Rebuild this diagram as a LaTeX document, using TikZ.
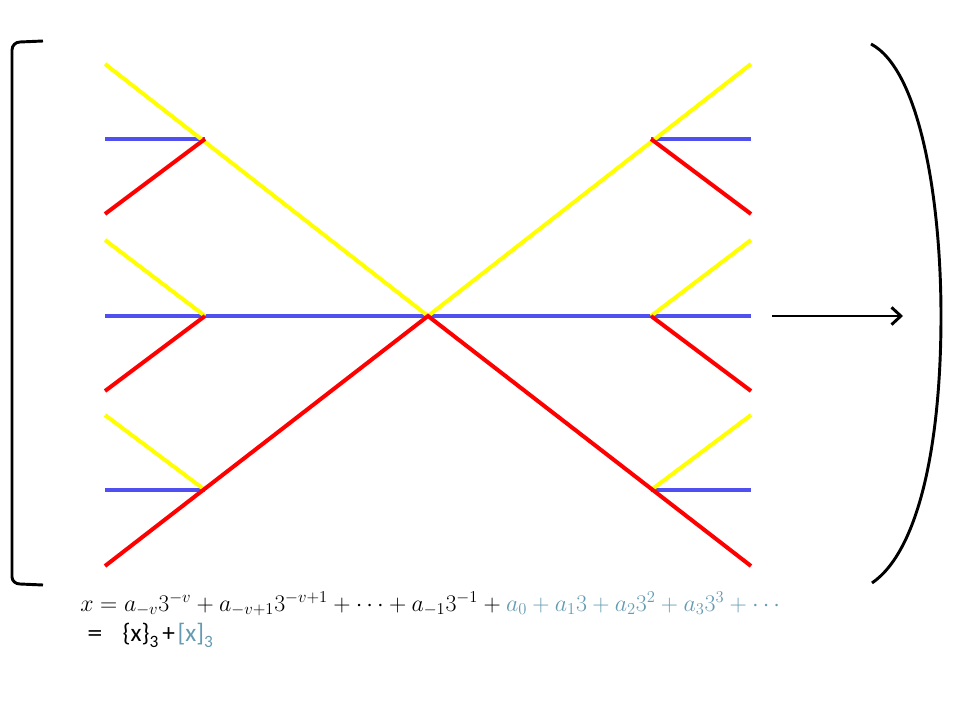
\documentclass[tikz,border=0pt]{standalone}
\usepackage{fontspec}
\newfontfamily\calib{Carlito}
\usetikzlibrary{arrows.meta}
\definecolor{yel}{RGB}{255,255,0}
\definecolor{blu}{RGB}{80,80,240}
\definecolor{rd}{RGB}{255,0,0}
\definecolor{tealt}{RGB}{100,155,178}
\newcommand{\subthree}{\raisebox{-5pt}{\fontsize{13}{14}\selectfont 3}}
\tikzset{
  seg/.style={line width=3pt},
  ys/.style={seg,draw=yel},
  bs/.style={seg,draw=blu},
  rs/.style={seg,draw=rd},
  blk/.style={line width=2.2pt,draw=black}
}
\begin{document}
\begin{tikzpicture}[x=0.75pt,y=-0.75pt]
\useasboundingbox (0,0) rectangle (960,720);
% left junctions
\coordinate (L1) at (205,139);
\coordinate (L2) at (205,316);
\coordinate (L3) at (205,490);
\coordinate (C) at (428,316);
\coordinate (R1) at (651,139);
\coordinate (R2) at (651,316);
\coordinate (R3) at (651,490);
% left ends
\coordinate (ly1) at (105,64);  \coordinate (lb1) at (105,139); \coordinate (lr1) at (105,214);
\coordinate (ly2) at (105,240); \coordinate (lb2) at (105,316); \coordinate (lr2) at (105,391);
\coordinate (ly3) at (105,415); \coordinate (lb3) at (105,490); \coordinate (lr3) at (105,566);
% right ends
\coordinate (ry1) at (751,64);  \coordinate (rb1) at (751,139); \coordinate (rr1) at (751,214);
\coordinate (ry2) at (751,240); \coordinate (rb2) at (751,316); \coordinate (rr2) at (751,391);
\coordinate (ry3) at (751,415); \coordinate (rb3) at (751,490); \coordinate (rr3) at (751,566);
% blue
\draw[bs] (lb1) -- (L1);
\draw[bs] (lb2) -- (rb2);
\draw[bs] (lb3) -- (L3);
\draw[bs] (R1) -- (rb1);
\draw[bs] (R3) -- (rb3);
% yellow
\draw[ys] (ly1) -- (C) -- (ry1);
\draw[ys] (ly2) -- (L2);
\draw[ys] (ly3) -- (L3);
\draw[ys] (R2) -- (ry2);
\draw[ys] (R3) -- (ry3);
% red
\draw[rs] (lr1) -- (L1);
\draw[rs] (lr2) -- (L2);
\draw[rs] (lr3) -- (C) -- (rr3);
\draw[rs] (R1) -- (rr1);
\draw[rs] (R2) -- (rr2);
% left bracket
\coordinate (bt) at (43,41);
\coordinate (bb) at (43,585);
\draw[blk] (bt) -- (20,42) to[out=180,in=90] (12,50) -- (12,577) to[out=-90,in=180] (20,584) -- (bb);
% right paren
\coordinate (pt) at (871,44);
\coordinate (pm) at (941,316);
\coordinate (pb) at (872,583);
\draw[blk] (pt) .. controls (920,70) and (941,200) .. (pm) .. controls (941,440) and (920,550) .. (pb);
% arrow
\coordinate (a1) at (772,316);
\coordinate (a2) at (903,316);
\draw[blk,-{Straight Barb[length=7pt,width=13pt]}] (a1) -- (a2);
% formula
\node[anchor=base west,inner sep=0pt,font=\fontsize{18.4}{22}\selectfont] (f1) at (80,611)
  {\scalebox{1.037}{$x=a_{-v}3^{-v}+a_{-v+1}3^{-v+1}+\cdots+a_{-1}3^{-1}+{\color{tealt}a_0+a_13+a_23^2+a_33^3+\cdots}$}};
\node[anchor=base west,inner sep=0pt,font=\calib\fontsize{19}{22}\selectfont] (f2) at (87,641)
  {\scalebox{1.2}[1]{=}\hspace{0.8em}\{x\}\subthree\kern3pt+\kern2pt{\color{tealt}[x]\subthree}};
\end{tikzpicture}
\end{document}
